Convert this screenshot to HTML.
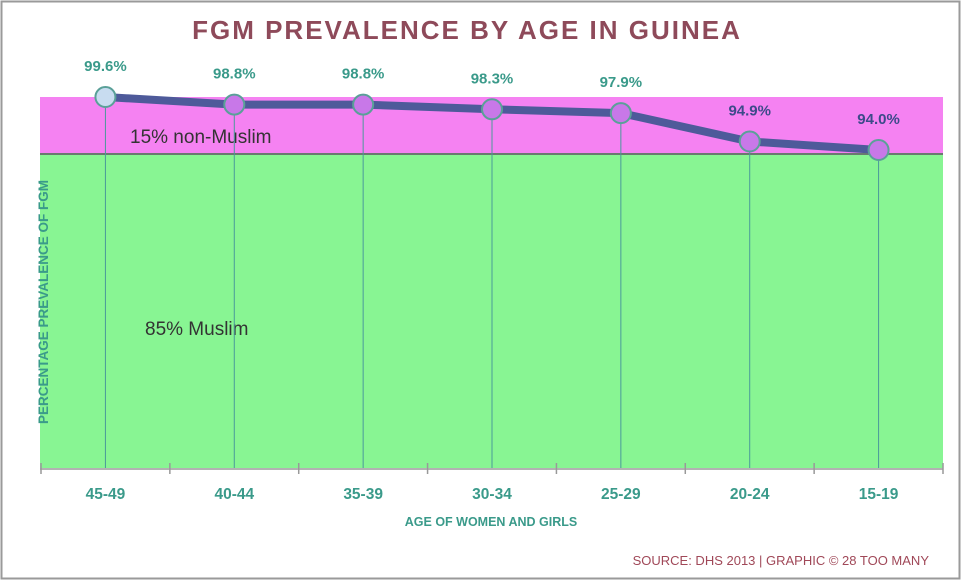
<!DOCTYPE html>
<html><head><meta charset="utf-8"><style>
body{margin:0;background:#fff;}
svg{display:block;font-family:"Liberation Sans",sans-serif;}
</style></head><body>
<svg width="962" height="581" viewBox="0 0 962 581">
<rect x="1.5" y="1.5" width="958" height="577" fill="#fff" stroke="#9a9a9a" stroke-width="2"/>
<text x="467" y="39" text-anchor="middle" font-size="26" font-weight="bold" fill="#8e4a5a" letter-spacing="2">FGM PREVALENCE BY AGE IN GUINEA</text>
<rect x="40" y="97" width="903" height="57" fill="#f582f2"/>
<rect x="40" y="154" width="903" height="314" fill="#88f593"/>
<line x1="40" y1="154" x2="943" y2="154" stroke="#6a7a70" stroke-width="2"/>
<text x="130" y="143" font-size="19" fill="#333">15% non-Muslim</text>
<text x="145" y="335" font-size="19" fill="#333">85% Muslim</text>
<text transform="translate(48,302) rotate(-90)" text-anchor="middle" font-size="13.5" font-weight="bold" fill="#3a9a8a">PERCENTAGE PREVALENCE OF FGM</text>
<line x1="40" y1="469" x2="943" y2="469" stroke="#999" stroke-width="1.5"/>
<text x="491" y="526" text-anchor="middle" font-size="12.5" font-weight="bold" fill="#3a9a8a">AGE OF WOMEN AND GIRLS</text>
<text x="929" y="565" text-anchor="end" font-size="13" fill="#a04858">SOURCE: DHS 2013 | GRAPHIC © 28 TOO MANY</text>
<g id="marks"></g>
</svg>
<script>
const categories=["45-49","40-44","35-39","30-34","25-29","20-24","15-19"];
const values=[99.6,98.8,98.8,98.3,97.9,94.9,94.0];
const labels=["99.6%","98.8%","98.8%","98.3%","97.9%","94.9%","94.0%"];
const NS="http://www.w3.org/2000/svg";
const g=document.getElementById('marks');
const x0=41,x1=943;
const bw=(x1-x0)/categories.length;
function xs(i){return x0+bw*(i+0.5);}
function ys(v){return 97+(99.6-v)*(53/5.6);}
function mk(t,a){const e=document.createElementNS(NS,t);for(const k in a)e.setAttribute(k,a[k]);g.appendChild(e);return e;}
for(let i=0;i<=categories.length;i++){
 const t=mk('line',{x1:x0+bw*i,x2:x0+bw*i,y1:463,y2:474,stroke:'#999','stroke-width':1.5});
 
 
}
categories.forEach((c,i)=>{
 const d=mk('line',{x1:xs(i),x2:xs(i),y1:ys(values[i]),y2:468,stroke:'#4a9a9a','stroke-width':1});
 
 
 const t=mk('text',{x:xs(i),y:499,'text-anchor':'middle','font-size':15.5,'font-weight':'bold',fill:'#3a9a8a'});
 t.textContent=c;
 
 
});
const pts=values.map((v,i)=>xs(i)+','+ys(v)).join(' ');
const line=mk('polyline',{points:pts,fill:'none',stroke:'#4e5a9a','stroke-width':8,'stroke-linejoin':'round'});


values.forEach((v,i)=>{
 const c=mk('circle',{cx:xs(i),cy:ys(v),r:10,fill:i==0?'#c8dcf0':'#c878e8',stroke:'#5aa098','stroke-width':2});
 
 
 const t=mk('text',{x:xs(i),y:ys(v)-26,'text-anchor':'middle','font-size':15,'font-weight':'bold',fill:i>=5?'#3d4a8a':'#3a9a8a'});
 t.textContent=labels[i];
 
 
});
</script>
</body></html>
